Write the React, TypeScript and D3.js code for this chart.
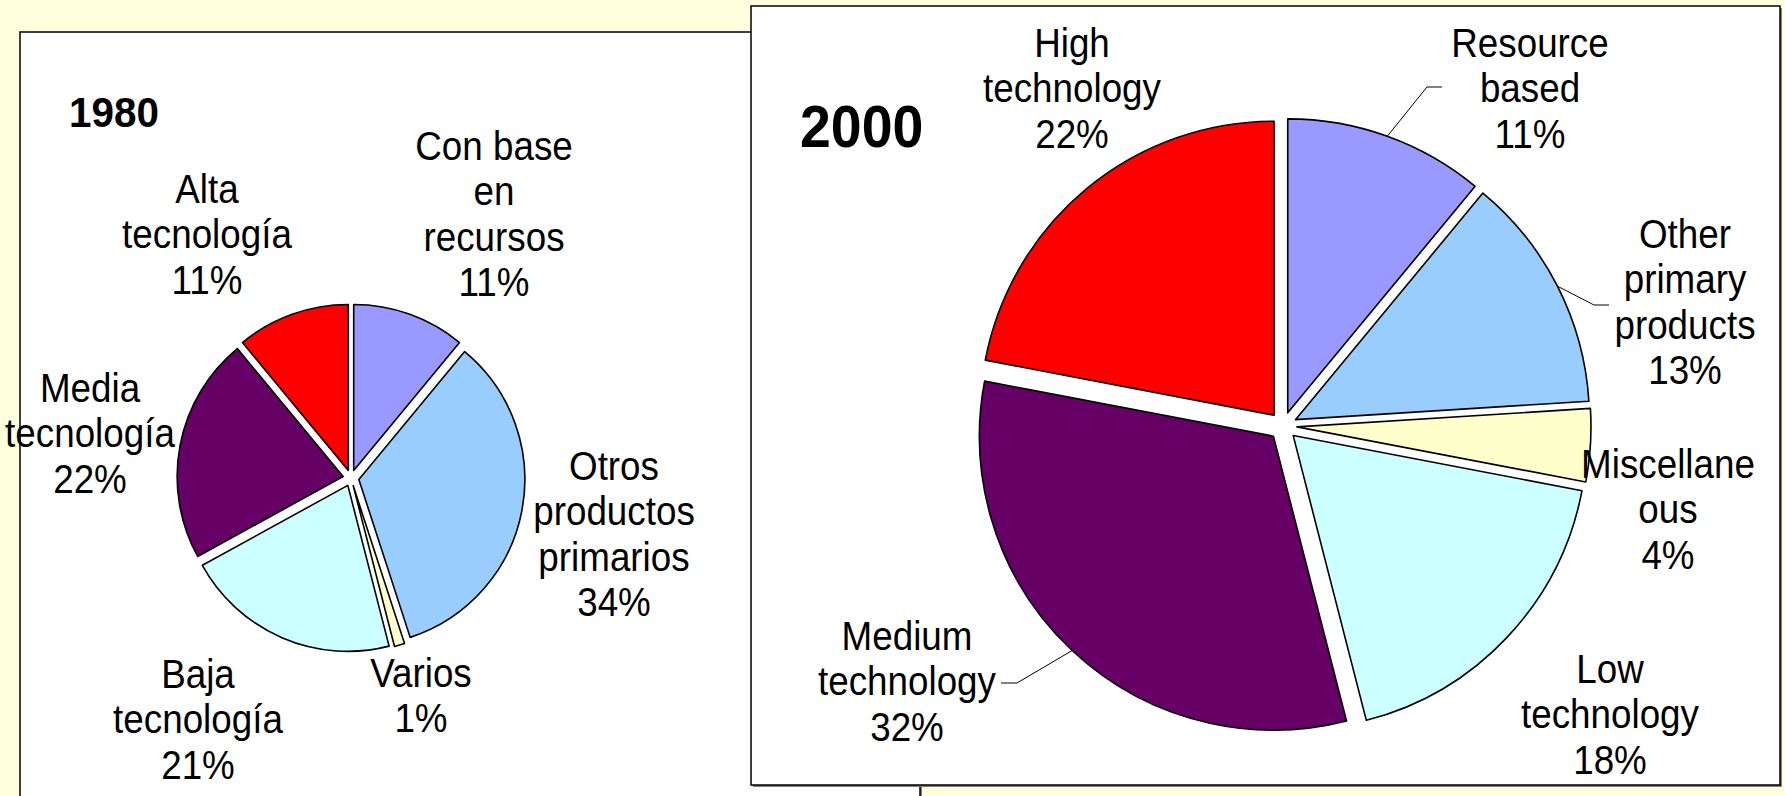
import * as d3 from "d3";

// 1980 shares (clockwise from 12 o'clock)
const cats1980 = ["Con base en recursos", "Otros productos primarios", "Varios", "Baja tecnología", "Media tecnología", "Alta tecnología"];
const vals1980 = [11, 34, 1, 21, 22, 11];
const lines1980 = [["Con base", "en", "recursos"], ["Otros", "productos", "primarios"], ["Varios"], ["Baja", "tecnología"], ["Media", "tecnología"], ["Alta", "tecnología"]];

// 2000 shares
const cats2000 = ["Resource based", "Other primary products", "Miscellaneous", "Low technology", "Medium technology", "High technology"];
const vals2000 = [11, 13, 4, 18, 32, 22];
const lines2000 = [["Resource", "based"], ["Other", "primary", "products"], ["Miscellane", "ous"], ["Low", "technology"], ["Medium", "technology"], ["High", "technology"]];

const sliceColors = ["#9999ff", "#99ccff", "#ffffcc", "#ccffff", "#660066", "#ff0000"];

const W = 1785;
const H = 796;
const FONT = "'Liberation Sans', Arial, sans-serif";
const LINE_H = 45.5;
const SQUEEZE = 0.92; // labels in the original look slightly condensed

interface PieLayout {
    cx: number;
    cy: number;
    r: number;
    explode: number;
    labels: { x: number; y: number }[];
    leaders: ({ elbow: [number, number]; end: [number, number] } | null)[];
}

const layout1980: PieLayout = {
    cx: 351,
    cy: 478,
    r: 166,
    explode: 8,
    labels: [
        { x: 494, y: 160 },
        { x: 614, y: 480 },
        { x: 421, y: 687 },
        { x: 198, y: 688 },
        { x: 90, y: 402 },
        { x: 207, y: 203 },
    ],
    leaders: [null, null, null, null, null, null],
};

const layout2000: PieLayout = {
    cx: 1283,
    cy: 426,
    r: 294,
    explode: 14,
    labels: [
        { x: 1530, y: 57 },
        { x: 1685, y: 248 },
        { x: 1668, y: 478 },
        { x: 1610, y: 683 },
        { x: 907, y: 650 },
        { x: 1072, y: 57 },
    ],
    leaders: [
        { elbow: [1427, 87], end: [1442, 87] },
        { elbow: [1594, 305], end: [1609, 305] },
        null,
        null,
        { elbow: [1017, 683], end: [1001, 683] },
        null,
    ],
};

function Pie({ cats, values, lines, lay }: { cats: string[]; values: number[]; lines: string[][]; lay: PieLayout }) {
    const arcs = d3.pie<number>().sort(null).value((d) => d)(values);
    const arcGen = d3.arc<d3.PieArcDatum<number>>().innerRadius(0).outerRadius(lay.r);

    return (
        <g>
            {arcs.map((a, i) => {
                const mid = (a.startAngle + a.endAngle) / 2;
                const ox = lay.cx + lay.explode * Math.sin(mid);
                const oy = lay.cy - lay.explode * Math.cos(mid);
                return (
                    <path
                        key={cats[i]}
                        d={arcGen(a) ?? ""}
                        transform={`translate(${ox},${oy})`}
                        fill={sliceColors[i]}
                        stroke="#000"
                        strokeWidth={1.6}
                        strokeLinejoin="round"
                    />
                );
            })}
            {arcs.map((a, i) => {
                const ld = lay.leaders[i];
                if (!ld) return null;
                const mid = (a.startAngle + a.endAngle) / 2;
                const ox = lay.cx + lay.explode * Math.sin(mid);
                const oy = lay.cy - lay.explode * Math.cos(mid);
                const sx = ox + lay.r * Math.sin(mid);
                const sy = oy - lay.r * Math.cos(mid);
                const path = d3.line()([[sx, sy], ld.elbow, ld.end]) ?? "";
                return <path key={"ld" + i} d={path} fill="none" stroke="#000" strokeWidth={1} />;
            })}
            {arcs.map((a, i) => {
                const p = lay.labels[i];
                const all = [...lines[i], `${values[i]}%`];
                return (
                    <text
                        key={"lb" + i}
                        transform={`translate(${p.x},0) scale(${SQUEEZE},1)`}
                        textAnchor="middle"
                        fontFamily={FONT}
                        fontSize={40}
                        fill="#000"
                    >
                        {all.map((t, j) => (
                            <tspan key={j} x={0} y={p.y + j * LINE_H}>
                                {t}
                            </tspan>
                        ))}
                    </text>
                );
            })}
        </g>
    );
}

export default function App() {
    return (
        <svg width={W} height={H} style={{ position: "absolute", left: 0, top: 0, display: "block" }}>
            <rect x={0} y={0} width={W} height={H} fill="#ffffdd" />

            {/* 1980 panel */}
            <rect x={22} y={34} width={900} height={800} fill="#808080" />
            <rect x={20} y={32} width={900} height={800} fill="#fff" stroke="#000" strokeWidth={1.5} />
            <text transform="translate(69,0) scale(0.94,1)" y={127} fontFamily={FONT} fontSize={43} fontWeight="bold">1980</text>
            <Pie cats={cats1980} values={vals1980} lines={lines1980} lay={layout1980} />

            {/* 2000 panel */}
            <rect x={753} y={8} width={1029} height={779} fill="#808080" />
            <rect x={751} y={6} width={1029} height={779} fill="#fff" stroke="#000" strokeWidth={1.5} />
            <text transform="translate(800,0) scale(0.94,1)" y={147} fontFamily={FONT} fontSize={59} fontWeight="bold">2000</text>
            <Pie cats={cats2000} values={vals2000} lines={lines2000} lay={layout2000} />
        </svg>
    );
}
